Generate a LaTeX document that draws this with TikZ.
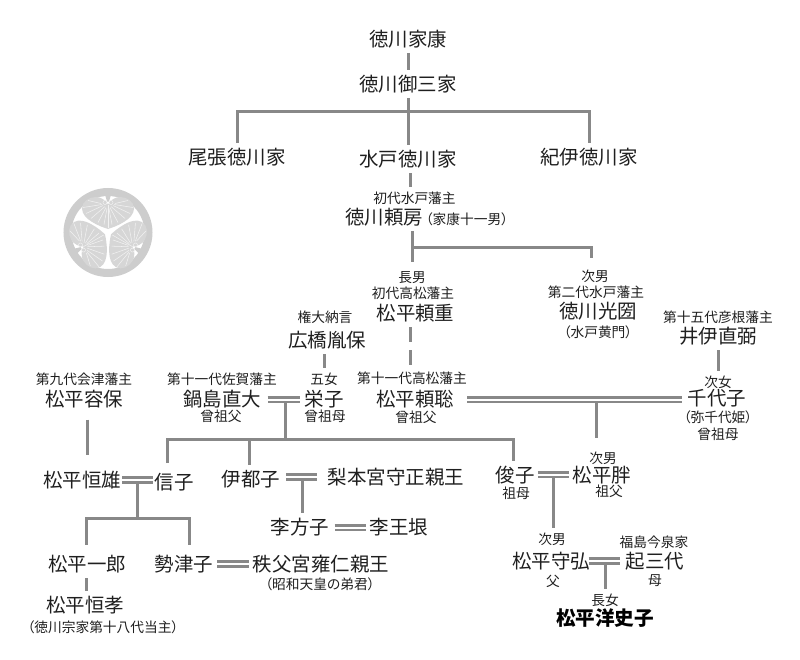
\documentclass[tikz,border=0pt]{standalone}
\usepackage{fontspec}
\setmainfont[RawFeature=+palt]{Noto Sans CJK JP}
\tikzset{
biglab/.style={inner sep=0pt,outer xsep=0pt,outer ysep=3pt,text height=13pt,text depth=2pt,font=\fontsize{14.6}{16}\selectfont,text=black!88},
boldlab/.style={biglab,font=\fontsize{14.7}{16}\selectfont\bfseries,text=black},
smalllab/.style={inner sep=0pt,outer xsep=0pt,outer ysep=3pt,text height=9.15pt,text depth=1.35pt,font=\fontsize{10.3}{12}\selectfont,text=black!88},
link/.style={draw=linegray,line width=2.25pt},
wed/.style={draw=linegray,line width=1.9pt,double=white,double distance=1.5pt},
vein/.style={draw=veingray,line width=0.4pt},
}
\definecolor{linegray}{HTML}{888888}
\definecolor{ringgray}{HTML}{CDCDCD}
\definecolor{leafgray}{HTML}{D6D6D6}
\definecolor{veingray}{HTML}{F2F2F2}
\begin{document}
\begin{tikzpicture}[x=0.75pt,y=-0.75pt]
\useasboundingbox (0,0) rectangle (800,660);
% crest
\draw[ringgray,line width=6pt] (108,232.5) circle[radius=40.5];
\foreach \ang in {0,120,240}{
\begin{scope}[shift={(108,232.5)},rotate=\ang]
\fill[leafgray] (0,-3.5) .. controls (-8,-6) and (-26,-13) .. (-26,-24) .. controls (-26,-31) and (-19,-35.5) .. (-12,-35.5) .. controls (-7,-35.5) and (-2,-32) .. (0,-28) .. controls (2,-32) and (7,-35.5) .. (12,-35.5) .. controls (19,-35.5) and (26,-31) .. (26,-24) .. controls (26,-13) and (8,-6) .. (0,-3.5) -- cycle;
\fill[ringgray] (-3,-38) -- (3,-38) -- (1,-31) -- (-1,-31) -- cycle;
\draw[vein] (0,-28) -- (0,-5);
\foreach \vx/\vy/\sx/\sy in {-4/-8/-1/-24,-10/-10/-2/-25,-17/-14/-3/-26,-22/-19/-5/-27,-25/-25/-6/-28,-20/-32/-7/-29,4/-8/1/-24,10/-10/2/-25,17/-14/3/-26,22/-19/5/-27,25/-25/6/-28,20/-32/7/-29}{
\draw[vein] (\sx,\sy) -- (\vx,\vy);
}
\draw[veingray,fill=leafgray,line width=0.4pt] (-3,-30) circle[radius=2];
\draw[veingray,fill=leafgray,line width=0.4pt] (3,-30) circle[radius=2];
\end{scope}
}
% top
\node[biglab] (ieyasu) at (408,39) {徳川家康};
\node[biglab] (gosanke) at (408,84) {徳川御三家};
\node[biglab] (owari) at (237,157) {尾張徳川家};
\node[biglab] (mito) at (408,159) {水戸徳川家};
\node[biglab] (kii) at (589,157) {紀伊徳川家};
\node[smalllab] (fusatitle) at (414.5,198) {初代水戸藩主};
\node[biglab] (yorifusa) at (384,217) {徳川頼房};
\node[smalllab] (fusanote) at (467,219) {（家康十一男）};
% sons
\node[smalllab] (chonan) at (412,277) {長男};
\node[smalllab] (shigetitle) at (413,293) {初代高松藩主};
\node[biglab] (yorishige) at (415.5,313) {松平頼重};
\node[smalllab] (jinan) at (595,276) {次男};
\node[smalllab] (mitsutitle) at (596,292) {第二代水戸藩主};
\node[biglab] (mitsukuni) at (598,311) {徳川光圀};
\node[smalllab] (komon) at (598,332) {（水戸黄門）};
% great grandparents
\node[smalllab] (hirotitle) at (325,317) {権大納言};
\node[biglab] (hirohashi) at (327,340) {広橋胤保};
\node[smalllab] (naotitle) at (718,317) {第十五代彦根藩主};
\node[biglab] (naosuke) at (718,336) {井伊直弼};
\node[smalllab] (katatitle) at (84,379) {第九代会津藩主};
\node[biglab] (katamori) at (84,399) {松平容保};
\node[smalllab] (nabetitle) at (222,379) {第十一代佐賀藩主};
\node[biglab] (nabeshima) at (222,399) {鍋島直大};
\node[smalllab] (nabenote) at (221,416) {曾祖父};
\node[smalllab] (gojo) at (324,379) {五女};
\node[biglab] (eiko) at (324,399) {栄子};
\node[smalllab] (eikonote) at (325,416) {曾祖母};
\node[smalllab] (toshititle) at (412,378) {第十一代高松藩主};
\node[biglab] (yoritoshi) at (415,399) {松平頼聡};
\node[smalllab] (toshinote) at (416,417) {曾祖父};
\node[smalllab] (jijo) at (718,382) {次女};
\node[biglab] (chiyoko) at (717,398) {千代子};
\node[smalllab] (yachiyo) at (718,417) {（弥千代姫）};
\node[smalllab] (chiyonote) at (718,434) {曾祖母};
% next generation
\node[biglab] (tsuneo) at (82,480) {松平恒雄};
\node[biglab] (nobuko) at (174,482) {信子};
\node[biglab] (itoko) at (251,479) {伊都子};
\node[biglab] (nashimoto) at (396,477) {梨本宮守正親王};
\node[biglab] (masako) at (300,527) {李方子};
\node[biglab] (gin) at (399,527) {李王垠};
\node[biglab] (ichiro) at (87,564) {松平一郎};
\node[biglab] (setsuko) at (184,564) {勢津子};
\node[biglab] (chichibu) at (321,564) {秩父宮雍仁親王};
\node[smalllab] (chichinote) at (320,584) {（昭和天皇の弟君）};
\node[biglab] (tsunetaka) at (85,605) {松平恒孝};
\node[smalllab] (takanote) at (103,627) {（徳川宗家第十八代当主）};
\node[biglab] (toshiko) at (515,475) {俊子};
\node[smalllab] (sobo) at (516,493) {祖母};
\node[smalllab] (mutsujin) at (603,458) {次男};
\node[biglab] (mutsumu) at (602,475) {松平胖};
\node[smalllab] (sofu) at (609,491) {祖父};
\node[smalllab] (morijin) at (552,539) {次男};
\node[biglab] (morihiro) at (551,561) {松平守弘};
\node[smalllab] (chichi) at (553,581) {父};
\node[smalllab] (kimititle) at (654,542) {福島今泉家};
\node[biglab] (kimiyo) at (655,561) {起三代};
\node[smalllab] (haha) at (655,580) {母};
\node[smalllab] (chojo) at (605,600) {長女};
\node[boldlab] (yoshiko) at (605,618) {松平洋史子};
% junctions
\coordinate (gofork) at (408,112);
\coordinate (fusafork) at (412,247);
\coordinate (kobend) at (591,258);
\coordinate (nabewed) at (285,399.5);
\coordinate (nabefork) at (285,439);
\coordinate (itofork) at (249,439);
\coordinate (nobutop) at (167,463);
\coordinate (yoriwed) at (596,399.5);
\coordinate (tsunewed) at (137,480);
\coordinate (tsunefork) at (137,518);
\coordinate (itowed) at (302,477);
\coordinate (masawed) at (350,527.5);
\coordinate (setsuwed) at (233,564);
\coordinate (toshiwed) at (553,474.5);
\coordinate (moriwed) at (605,561);
% descent lines
\draw[link] (ieyasu.south) -- (gosanke.north);
\draw[link] (gosanke.south) -- (mito.north);
\draw[link] (owari.north) |- (gofork) -| (kii.north);
\draw[link] (mito.south -| 410,0) -- (fusatitle.north -| 410,0);
\draw[link,shorten >=3pt] (yorifusa.south -| chonan.north) -- (chonan.north);
\draw[link] (fusafork) -| (kobend);
\draw[link,dash pattern=on 11.25pt off 6pt] (yorishige.south -| 410,0) -- (toshititle.north -| 410,0);
\draw[link] (hirohashi.south -| gojo.north) -- (gojo.north);
\draw[link] (naosuke.south -| jijo.north) -- (jijo.north);
\draw[link,shorten <=5pt,shorten >=8pt] (katamori.south -| 87,0) -- (tsuneo.north -| 87,0);
\draw[link] (nabewed) -- (nabefork);
\draw[link] (nobutop) |- (nabefork) -| (toshiko.north -| 513,0);
\draw[link] (itofork) -- (itoko.north -| itofork);
\draw[link,shorten >=7pt] (yoriwed) -- (mutsujin.north -| yoriwed);
\draw[link] (tsunewed) -- (tsunefork);
\draw[link,shorten <=4pt,shorten >=4pt] (ichiro.north -| 86,0) |- (tsunefork) -| (setsuko.north -| 189,0);
\draw[link] (ichiro.south -| 86,0) -- (tsunetaka.north -| 86,0);
\draw[link] (itowed) -- (masako.north -| itowed);
\draw[link] (toshiwed) -- (morijin.north -| toshiwed);
\draw[link] (moriwed) -- (chojo.north);
% marriages
\draw[wed,shorten <=5pt,shorten >=3.5pt] (nabeshima.east |- nabewed) -- (eiko.west |- nabewed);
\draw[wed,shorten <=10pt,shorten >=4pt] (yoritoshi.east |- yoriwed) -- (chiyoko.west |- yoriwed);
\draw[wed,shorten <=1pt,shorten >=1pt] (tsuneo.east |- tsunewed) -- (nobuko.west |- tsunewed);
\draw[wed,shorten <=4.5pt,shorten >=8pt] (itoko.east |- itowed) -- (nashimoto.west |- itowed);
\draw[wed,shorten <=4pt,shorten >=3pt] (masako.east |- masawed) -- (gin.west |- masawed);
\draw[wed,shorten <=3pt,shorten >=3pt] (setsuko.east |- setsuwed) -- (chichibu.west |- setsuwed);
\draw[wed,shorten <=2.5pt,shorten >=3pt] (toshiko.east |- toshiwed) -- (mutsumu.west |- toshiwed);
\draw[wed,shorten <=-1pt,shorten >=4.5pt] (morihiro.east |- moriwed) -- (kimiyo.west |- moriwed);
\end{tikzpicture}
\end{document}
